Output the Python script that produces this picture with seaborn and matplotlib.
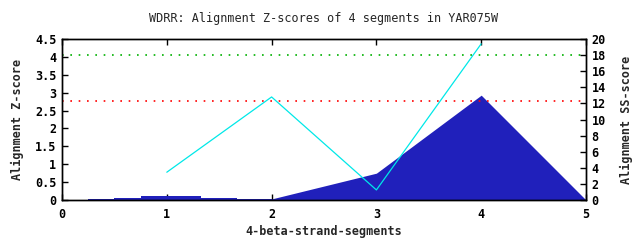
import matplotlib
matplotlib.use("Agg")
import matplotlib.pyplot as plt
import seaborn as sns
import pandas as pd

# ---- data ----
step_edges = [0.25, 0.5, 0.75, 1.33, 1.67, 2.0]
step_z = [0.03, 0.05, 0.10, 0.06, 0.03]
ramp_x = [2.0, 3.0, 4.0, 5.0]
ramp_z = [0.03, 0.75, 2.93, 0.0]
seg_x = [1, 2, 3, 4]
ss_scores = [3.45, 12.8, 1.25, 19.4]
z_thresh_green = 4.05
z_thresh_red = 2.78
x_ticks = [0, 1, 2, 3, 4, 5]
z_ticks = [0, 0.5, 1, 1.5, 2, 2.5, 3, 3.5, 4, 4.5]
z_tick_labels = ["0", "0.5", "1", "1.5", "2", "2.5", "3", "3.5", "4", "4.5"]
ss_ticks = [0, 2, 4, 6, 8, 10, 12, 14, 16, 18, 20]

sns.set_theme(style="white")
plt.rcParams['font.family'] = ['DejaVu Sans Mono']

fig = plt.figure(figsize=(6.4, 2.4), dpi=100)
ax = fig.add_axes([62/640, 40/240, (586-62)/640, (200-39)/240])
ax2 = ax.twinx()

fill_col = '#2020bb'
# step part
ax.fill_between(step_edges, step_z + [step_z[-1]], 0, step='post', color=fill_col, lw=0)
# ramp part
ax.fill_between(ramp_x, ramp_z, 0, color=fill_col, lw=0)

ax.axhline(z_thresh_green, color='#00b000', lw=1.2, ls=(0, (1, 4)))
ax.axhline(z_thresh_red, color='#ff0000', lw=1.2, ls=(0, (1, 4)))

df = pd.DataFrame({"seg": seg_x, "ss": ss_scores})
sns.lineplot(data=df, x="seg", y="ss", ax=ax2, color='#00e8e8', lw=0.9)

ax.set_xlim(0, 5)
ax.set_ylim(0, 4.5)
ax2.set_ylim(0, 20)
ax.set_xticks(x_ticks)
ax.set_xticklabels([str(t) for t in x_ticks])
ax.set_yticks(z_ticks)
ax.set_yticklabels(z_tick_labels)
ax2.set_yticks(ss_ticks)
ax2.set_yticklabels([str(t) for t in ss_ticks])

fs = 8.5
for a in (ax, ax2):
    for s in a.spines.values():
        s.set_color('black')
        s.set_linewidth(1.0)
    a.tick_params(direction='in', length=4, width=1, labelsize=fs, colors='black', pad=4)
    for lbl in a.get_xticklabels() + a.get_yticklabels():
        lbl.set_fontweight('bold')
ax.tick_params(axis='x', top=True, bottom=True, pad=6)
ax.tick_params(axis='y', left=True, right=False)
ax2.tick_params(axis='y', right=True, left=False)

ax.set_xlabel("4-beta-strand-segments", fontsize=fs, fontweight='bold', labelpad=3)
ax.set_ylabel("Alignment Z-score", fontsize=fs, fontweight='bold', labelpad=8)
ax2.set_ylabel("Alignment SS-score", fontsize=fs, fontweight='bold', labelpad=10, rotation=90)
ax.set_title("WDRR: Alignment Z-scores of 4 segments in YAR075W", fontsize=fs, pad=12)

fig.savefig("out.png", dpi=100)
